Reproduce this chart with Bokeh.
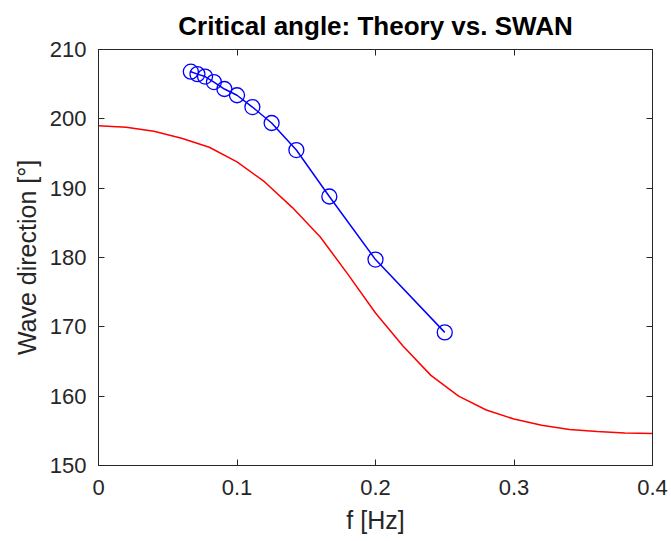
from bokeh.plotting import figure
from bokeh.models import LinearAxis, FixedTicker, CustomLabelingPolicy
from bokeh.embed import file_html
from bokeh.resources import INLINE

# SWAN results (frequency = 1/T for T = 15..4 s)
swan_f = [1/15, 1/14, 1/13, 1/12, 1/11, 1/10, 1/9, 1/8, 1/7, 1/6, 1/5, 1/4]
swan_dir = [206.8, 206.45, 206.1, 205.3, 204.3, 203.4, 201.7, 199.4, 195.5, 188.8, 179.7, 169.2]

# Theory curve
theory_f = [0, 0.02, 0.04, 0.06, 0.08, 0.1, 0.12, 0.14, 0.16, 0.18, 0.2, 0.22,
            0.24, 0.26, 0.28, 0.3, 0.32, 0.34, 0.36, 0.38, 0.4]
theory_dir = [199.0, 198.8, 198.2, 197.2, 195.9, 193.8, 190.9, 187.2, 183.0, 177.6, 172.0, 167.2,
              163.0, 160.0, 158.0, 156.7, 155.8, 155.2, 154.9, 154.7, 154.6]

x_ticks = [0, 0.1, 0.2, 0.3, 0.4]
x_tick_labels = ["0", "0.1", "0.2", "0.3", "0.4"]
y_ticks = [150, 160, 170, 180, 190, 200, 210]

FONT = "Liberation Sans"
AX = "#262626"

p = figure(width=671, height=541, x_range=(0, 0.4), y_range=(150, 210),
           output_backend="svg", toolbar_location=None,
           min_border_left=98, min_border_right=19, min_border_top=49, min_border_bottom=76,
           title="Critical angle: Theory vs. SWAN")

p.title.align = "center"
p.title.text_font = FONT
p.title.text_font_size = "26px"
p.title.text_font_style = "bold"
p.title.text_color = "#000000"
p.title.standoff = 17

p.xgrid.visible = False
p.ygrid.visible = False
p.outline_line_color = AX
p.outline_line_width = 1
p.background_fill_color = "white"
p.border_fill_color = "white"

p.line(theory_f, theory_dir, line_color="#FF0000", line_width=1.5)
p.line(swan_f, swan_dir, line_color="#0000FF", line_width=1.5)
p.scatter(swan_f, swan_dir, marker="circle", size=15, fill_color=None,
          line_color="#0000FF", line_width=1.3)

no_labels = CustomLabelingPolicy(code="""
    const all = [...indices]
    for (const i of all) indices.unset(i)
    return indices
""")

def style(ax, labels=True):
    ax.major_tick_in = 6
    ax.major_tick_out = 0
    ax.minor_tick_line_color = None
    ax.major_tick_line_color = AX
    ax.axis_line_color = AX
    ax.major_label_text_font = FONT
    ax.major_label_text_font_size = "22px"
    ax.major_label_text_color = AX
    ax.axis_label_text_font = FONT
    ax.axis_label_text_font_size = "25px"
    ax.axis_label_text_font_style = "normal"
    ax.axis_label_text_color = AX
    if not labels:
        ax.major_label_policy = no_labels
        ax.major_label_text_font_size = "0px"
        ax.major_label_standoff = 0
        ax.axis_label_standoff = 0

xa = p.xaxis[0]
ya = p.yaxis[0]
style(xa)
style(ya)
xa.ticker = FixedTicker(ticks=x_ticks)
xa.major_label_overrides = {t: l for t, l in zip(x_ticks, x_tick_labels)}
xa.axis_label = "f [Hz]"
xa.major_label_standoff = 14
xa.axis_label_standoff = 8
ya.ticker = FixedTicker(ticks=y_ticks)
ya.axis_label = "Wave direction [°]"
ya.major_label_standoff = 12
ya.axis_label_standoff = 6

top = LinearAxis(ticker=FixedTicker(ticks=x_ticks))
style(top, labels=False)
p.add_layout(top, "above")
right = LinearAxis(ticker=FixedTicker(ticks=y_ticks))
style(right, labels=False)
p.add_layout(right, "right")

open("out.html", "w").write(file_html(p, INLINE))
